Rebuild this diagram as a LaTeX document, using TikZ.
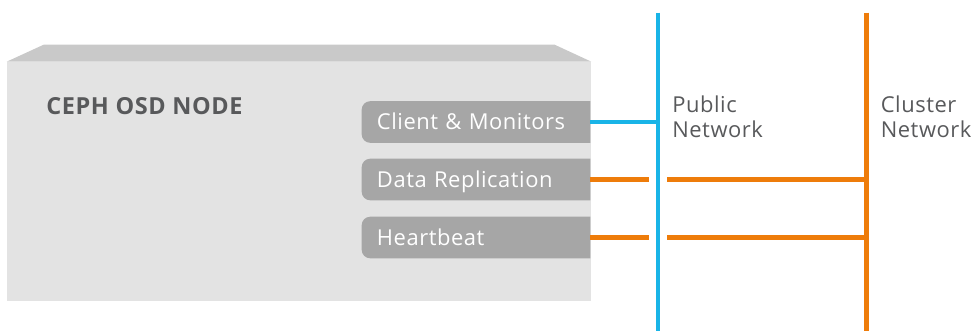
\documentclass[tikz,border=0pt]{standalone}
\usepackage{fontspec}
\setmainfont{Open Sans}[LetterSpace=2.5]
\usetikzlibrary{positioning, backgrounds}
\definecolor{osdfront}{HTML}{E3E3E3}
\definecolor{osdtop}{HTML}{C9C9C9}
\definecolor{pillgray}{HTML}{A6A6A6}
\definecolor{inkgray}{HTML}{58595B}
\definecolor{pubblue}{HTML}{19B4E7}
\definecolor{cluorange}{HTML}{EE7C0A}
\tikzset{
  osdbox/.style={fill=osdfront,minimum width=14.6cm,minimum height=5.975cm,inner sep=0pt},
  pillnode/.style={minimum height=1.025cm,text width=4.95cm,inner xsep=0.375cm,inner ysep=0pt,align=left,text=white,font=\fontsize{15.6}{18}\selectfont,text height=0.375cm,text depth=0pt},
  osdtitle/.style={anchor=base west,inner sep=0pt,text=inkgray,font=\fontsize{16.7}{20}\selectfont\bfseries},
  netlabel/.style={anchor=north west,inner sep=0pt,align=left,text=inkgray,font=\fontsize{15.6}{17.8}\selectfont},
  publink/.style={draw=pubblue,line width=0.1cm},
  clulink/.style={draw=cluorange,line width=0.1125cm},
  gapwhite/.style={preaction={draw=white,line width=0.435cm}},
}

\begin{document}
\begin{tikzpicture}[x=0.025cm,y=-0.025cm]
  \useasboundingbox (0,0) rectangle (972,331);
  % ---- ports on the OSD node ----
  \node[pillnode] (client) at (476,122) {Client \& Monitors};
  \node[pillnode] (repl) at (476,179.5) {Data Replication};
  \node[pillnode] (heart) at (476,237.5) {Heartbeat};
  \node[osdtitle] (title) at (46,114.3) {CEPH OSD NODE};
  % ---- the two networks ----
  \coordinate (pubtop) at (658,12.5);
  \coordinate (pubbot) at (658,331);
  \coordinate (clutop) at (866.5,12.5);
  \coordinate (clubot) at (866.5,331);
  \node[netlabel] (publabel) at (672,95.5) {Public\\Network};
  \node[netlabel] (clulabel) at (880.5,95.5) {Cluster\\Network};
  % orange links first, the blue bus then cuts its gap through them
  \draw[clulink] (clutop) -- (clubot);
  \draw[clulink] (repl.east) -- (repl.east -| clutop);
  \draw[clulink] (heart.east) -- (heart.east -| clutop);
  \draw[publink,gapwhite] (pubtop) -- (pubbot);
  \draw[publink] (client.east) -- (client.east -| pubtop);
  \begin{scope}[on background layer]
    \node[osdbox] (osd) at (299,181.5) {};
    \fill[osdtop] (osd.north west) -- ++(37,-17) -- ++(511,0) -- (osd.north east) -- cycle;
    \foreach \p in {client,repl,heart}
      \fill[pillgray] (\p.north east) [rounded corners=6pt] -- (\p.north west) -- (\p.south west) [sharp corners] -- (\p.south east) -- cycle;
  \end{scope}
\end{tikzpicture}
\end{document}
